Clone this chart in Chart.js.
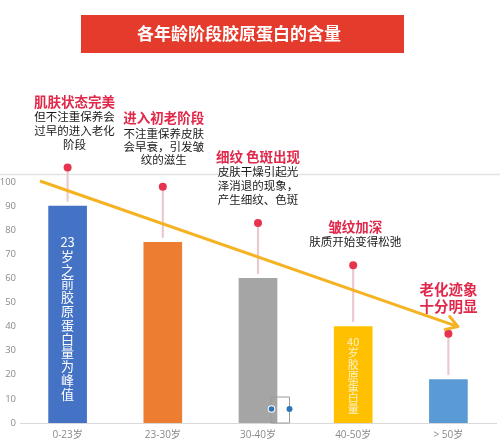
<!DOCTYPE html>
<html>
<head>
<meta charset="utf-8">
<script src="https://cdn.jsdelivr.net/npm/chart.js@4/dist/chart.umd.min.js"></script>
<style>
  html, body { margin: 0; padding: 0; background: #fff; }
  #wrap { width: 500px; height: 444px; position: relative; }
</style>
</head>
<body>
<div id="wrap"><canvas id="chart"></canvas></div>
<script>
// data
const categories = ['0-23岁', '23-30岁', '30-40岁', '40-50岁', '> 50岁'];
const collagen = [90, 75, 60, 40, 18];
const markerValues = [106, 98, 83, 65.5, 37];
const yTicks = [0, 10, 20, 30, 40, 50, 60, 70, 80, 90, 100];
const trendX = [-0.29, 4.1];
const trendY = [100.4, 40];

const titleText = '各年龄阶段胶原蛋白的含量';
const stageTitles = [['肌肤状态完美'], ['进入初老阶段'], ['细纹 色斑出现'], ['皱纹加深'], ['老化迹象', '十分明显']];
const stageNotes = [
  ['但不注重保养会', '过早的进入老化', '阶段'],
  ['不注重保养皮肤', '会早衰，引发皱', '纹的滋生'],
  ['皮肤干燥引起光', '泽消退的现象，', '产生细纹、色斑'],
  ['肤质开始变得松弛'],
  []
];
const barNotes = [['23', '岁', '之', '前', '胶', '原', '蛋', '白', '量', '为', '峰', '值'], [], [], ['40', '岁', '胶', '原', '蛋', '白', '量'], []];

const barColors = ['#4472C4', '#ED7D31', '#A5A5A5', '#FFC000', '#5B9BD5'];
const RED = '#E0294A';
const ARROW = '#F5B324';
const CJK = "'Noto Sans CJK SC', sans-serif";

// layout of annotation text (pixels), anchored on each marker's x
const noteLayout = [
  { dx: 7, titleY: [102], noteY: [117, 131, 145], titleSize: 13.5 },
  { dx: 1, titleY: [118], noteY: [134, 147, 160], titleSize: 13.5 },
  { dx: 0, titleY: [157], noteY: [172, 186, 200], titleSize: 13.5 },
  { dx: 2, titleY: [227], noteY: [242], titleSize: 13.5 },
  { dx: 0, titleY: [289, 306], noteY: [], titleSize: 14.5 }
];
const barTextLayout = [
  { top: 242, step: 13.8, size: 13, color: '#ffffff' },
  null, null,
  { top: 342, step: 11.2, size: 11, color: 'rgba(255,255,255,0.8)' },
  null
];

const decorPlugin = {
  id: 'decor',
  beforeDraw(chart) {
    const ctx = chart.ctx;
    ctx.save();
    // title banner
    ctx.fillStyle = '#E53B2C';
    ctx.fillRect(81, 15, 323, 38);
    ctx.fillStyle = '#ffffff';
    ctx.font = 'bold 17px ' + CJK;
    ctx.textAlign = 'center';
    ctx.textBaseline = 'middle';
    ctx.fillText(titleText, 239, 34);
    // thin frame line above plot
    ctx.strokeStyle = '#E4E4E4';
    ctx.lineWidth = 1.5;
    ctx.beginPath();
    ctx.moveTo(0, 174.5);
    ctx.lineTo(chart.width, 174.5);
    ctx.stroke();
    ctx.restore();
  },
  afterDatasetsDraw(chart) {
    const ctx = chart.ctx;
    const bars = chart.getDatasetMeta(0).data;
    const dots = chart.getDatasetMeta(2).data;
    const arrow = chart.getDatasetMeta(3).data;
    ctx.save();
    ctx.textAlign = 'center';
    ctx.textBaseline = 'middle';

    // vertical text inside bars
    bars.forEach((bar, i) => {
      const lay = barTextLayout[i];
      if (!lay) return;
      ctx.fillStyle = lay.color;
      ctx.font = lay.size + 'px ' + CJK;
      barNotes[i].forEach((ch, k) => ctx.fillText(ch, bar.x, lay.top + k * lay.step));
    });

    // stage annotations
    dots.forEach((pt, i) => {
      const lay = noteLayout[i];
      const cx = pt.x + lay.dx;
      ctx.fillStyle = RED;
      ctx.font = 'bold ' + lay.titleSize + 'px ' + CJK;
      stageTitles[i].forEach((t, k) => ctx.fillText(t, cx, lay.titleY[k]));
      ctx.fillStyle = '#1a1a1a';
      ctx.font = '11.5px ' + CJK;
      stageNotes[i].forEach((t, k) => ctx.fillText(t, cx, lay.noteY[k]));
    });

    // arrow head on the trend line
    const p0 = arrow[0], p1 = arrow[arrow.length - 1];
    const ang = Math.atan2(p1.y - p0.y, p1.x - p0.x);
    const len = 13;
    ctx.strokeStyle = ARROW;
    ctx.lineWidth = 3;
    ctx.lineCap = 'round';
    ctx.lineJoin = 'round';
    ctx.beginPath();
    ctx.moveTo(p1.x - len * Math.cos(ang - 0.55), p1.y - len * Math.sin(ang - 0.55));
    ctx.lineTo(p1.x, p1.y);
    ctx.lineTo(p1.x - len * Math.cos(ang + 0.55), p1.y - len * Math.sin(ang + 0.55));
    ctx.stroke();

    // leftover selection box near the grey bar
    const b = bars[2];
    const bottom = chart.chartArea.bottom;
    ctx.strokeStyle = '#9a9a9a';
    ctx.lineWidth = 1;
    ctx.strokeRect(b.x + 13.5, bottom - 26, 18, 26);
    [b.x + 13.5, b.x + 31.5].forEach((hx, k) => {
      ctx.beginPath();
      ctx.arc(hx, bottom - 14, k === 0 ? 3.8 : 3, 0, Math.PI * 2);
      ctx.fillStyle = k === 0 ? '#ffffff' : '#2E75B6';
      ctx.fill();
      if (k === 0) {
        ctx.beginPath();
        ctx.arc(hx, bottom - 14, 2.8, 0, Math.PI * 2);
        ctx.fillStyle = '#2E75B6';
        ctx.fill();
      }
    });
    ctx.restore();
  }
};

new Chart(document.getElementById('chart'), {
  type: 'bar',
  data: {
    labels: categories,
    datasets: [
      {
        label: '胶原蛋白含量',
        data: collagen,
        backgroundColor: barColors,
        grouped: false,
        barThickness: 38,
        order: 3
      },
      {
        label: 'stem',
        data: collagen.map((v, i) => [v + 2, markerValues[i]]),
        backgroundColor: '#E9C9CE',
        grouped: false,
        barThickness: 1.5,
        clip: false,
        order: 2
      },
      {
        type: 'line',
        label: 'marker',
        data: markerValues,
        showLine: false,
        pointRadius: 4,
        pointBackgroundColor: '#E8334F',
        pointBorderWidth: 0,
        clip: false,
        order: 1
      },
      {
        type: 'line',
        label: 'trend',
        xAxisID: 'xl',
        data: trendX.map((x, i) => ({ x: x, y: trendY[i] })),
        borderColor: ARROW,
        borderWidth: 3,
        pointRadius: 0,
        clip: false,
        order: 0
      }
    ]
  },
  options: {
    responsive: true,
    maintainAspectRatio: false,
    animation: false,
    layout: { padding: { top: 162.7, left: 0, right: 0, bottom: 0 } },
    plugins: {
      legend: { display: false },
      title: { display: false },
      tooltip: { enabled: false }
    },
    scales: {
      x: {
        grid: { display: false, drawTicks: false },
        border: { display: true, color: '#D9D9D9', width: 1 },
        ticks: {
          color: '#8a8a8a',
          font: { family: "'Open Sans', 'Noto Sans CJK SC', sans-serif", size: 10 },
          padding: 6,
          maxRotation: 0
        },
        afterFit(scale) { scale.height = 21; }
      },
      xl: {
        type: 'linear',
        display: false,
        offset: false,
        min: -0.5,
        max: 4.5
      },
      y: {
        min: 0,
        max: 108,
        grid: { display: false, drawTicks: false },
        border: { display: false },
        afterBuildTicks(scale) { scale.ticks = yTicks.map(v => ({ value: v })); },
        ticks: {
          color: '#8a8a8a',
          font: { family: "'Open Sans', sans-serif", size: 9.5 },
          padding: 4
        },
        afterFit(scale) { scale.width = 20; }
      }
    }
  },
  plugins: [decorPlugin]
});
</script>
</body>
</html>
